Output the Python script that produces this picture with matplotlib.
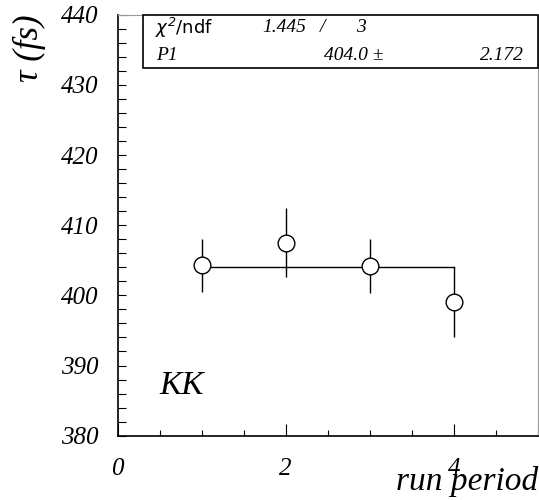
import numpy as np
import matplotlib.pyplot as plt
from matplotlib.patches import Rectangle
from matplotlib.ticker import MultipleLocator
from matplotlib.font_manager import FontProperties

# datos
periodo = [1, 2, 3, 4]
tau = [404.3, 407.5, 404.2, 399.1]
err = [3.8, 4.9, 3.9, 5.0]
p1 = 404.0
p1_err = 2.172
chi2 = 1.445
ndf = 3

serif = 'Liberation Serif'
plt.rcParams['font.family'] = [serif, 'DejaVu Sans']
plt.rcParams['font.style'] = 'italic'
fp_tick = FontProperties(family=serif, style='italic', size=18)

fig = plt.figure(figsize=(5.39, 5.0), dpi=100)
ax = fig.add_axes([117.5 / 539, 1 - 435.7 / 500, (538 - 117.5) / 539, (435.7 - 14.7) / 500])

# ajuste constante
ax.plot([periodo[0], periodo[-1]], [p1, p1], color='black', lw=1.0, zorder=2)
ax.errorbar(periodo, tau, yerr=err, fmt='o', ms=12, mfc='white', mec='black',
            mew=1.0, ecolor='black', elinewidth=1.0, capsize=0, zorder=3)

ax.set_xlim(0, 5)
ax.set_ylim(380, 440)
ax.xaxis.set_major_locator(MultipleLocator(2))
ax.xaxis.set_minor_locator(MultipleLocator(0.5))
ax.yaxis.set_major_locator(MultipleLocator(10))
ax.yaxis.set_minor_locator(MultipleLocator(2))
ax.tick_params(axis='x', which='major', direction='in', length=9, width=0.8, pad=16)
ax.tick_params(axis='x', which='minor', direction='in', length=4.5, width=0.8)
ax.tick_params(axis='y', which='both', direction='in', length=6, width=0.8, pad=14)

for s in ['left', 'bottom']:
    ax.spines[s].set_linewidth(1.2)
for s in ['top', 'right']:
    ax.spines[s].set_color('#999999')
    ax.spines[s].set_linewidth(0.8)

fig.text(29 / 539, 1 - 14 / 500, 'τ (fs)', rotation=90, ha='center', va='top', fontsize=25)
fig.text(538 / 539, 1 - 490 / 500, 'run period', ha='right', va='baseline', fontsize=24)

ax.text(0.1, 0.1, 'KK', transform=ax.transAxes, fontsize=24)

# caja de estadisticas
fig.patches.append(Rectangle((143 / 539, 1 - 68 / 500), (538 - 143) / 539, 53 / 500,
                             transform=fig.transFigure, fill=True, fc='white',
                             ec='black', lw=1.2, zorder=5))
y1 = 1 - 28 / 500
y2 = 1 - 55 / 500
fig.text(155 / 539, y1, r'$\chi^2$/ndf', ha='left', va='center', family='DejaVu Sans',
         style='normal', fontsize=13, zorder=6)
fig.text(262 / 539, y1, f'{chi2:.3f}', ha='left', va='center', fontsize=14, zorder=6)
fig.text(320 / 539, y1, '/', ha='left', va='center', fontsize=14, zorder=6)
fig.text(356 / 539, y1, f'{ndf}', ha='left', va='center', fontsize=14, zorder=6)
fig.text(156 / 539, y2, 'P1', ha='left', va='center', fontsize=14, zorder=6)
fig.text(384 / 539, y2, f'{p1:.1f} ±', ha='right', va='center', fontsize=14, zorder=6)
fig.text(524 / 539, y2, f'{p1_err:.3f}', ha='right', va='center', fontsize=14, zorder=6)

# etiquetas de los ejes en cursiva (despues de dibujar)
fig.canvas.draw()
for lab in ax.get_xticklabels() + ax.get_yticklabels():
    lab.set_fontproperties(fp_tick)

fig.savefig('out.png', dpi=100)
